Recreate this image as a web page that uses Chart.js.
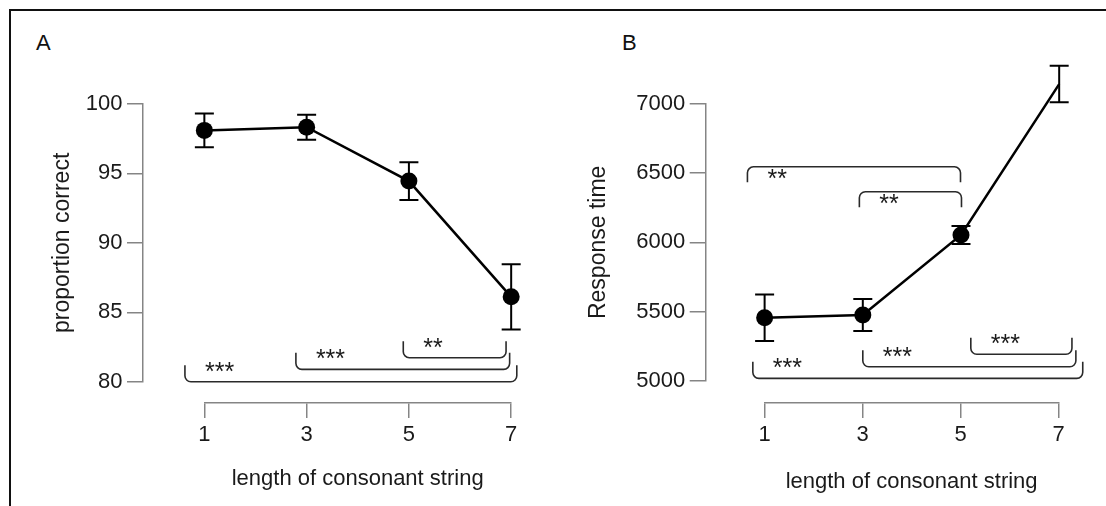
<!DOCTYPE html>
<html>
<head>
<meta charset="utf-8">
<script src="https://cdn.jsdelivr.net/npm/chart.js@4"></script>
<style>
  body { margin: 0; background: #fff; }
  #wrap { position: relative; width: 1106px; height: 506px; overflow: hidden; font-family: "Liberation Sans", Arial, sans-serif; }
  #frame { position: absolute; left: 9px; top: 9px; width: 1300px; height: 700px; border-left: 2px solid #111; border-top: 2px solid #111; }
  canvas { position: absolute; }
  .tag { position: absolute; font-size: 22px; color: #111; line-height: normal; }
</style>
</head>
<body>
<div id="wrap">
  <div id="frame"></div>
  <div class="tag" style="left:36px;top:30px">A</div>
  <div class="tag" style="left:622px;top:30px">B</div>
  <canvas id="accMain" width="560" height="400" style="left:0;top:0"></canvas>
  <canvas id="accAxis" width="560" height="126" style="left:0;top:380px"></canvas>
  <canvas id="rtMain" width="556" height="400" style="left:550px;top:0"></canvas>
  <canvas id="rtAxis" width="556" height="126" style="left:550px;top:380px"></canvas>
</div>
<script>
const lengths = [1, 3, 5, 7];
const xTicks = [1, 3, 5, 7];

const accuracy = [98.1, 98.33, 94.45, 86.11];
const accuracySE = [1.22, 0.9, 1.36, 2.35];
const accTicks = [80, 85, 90, 95, 100];

const rt = [5455, 5475, 6053, 7144];
const rtSE = [168, 116, 65, 132];
const rtTicks = [5000, 5500, 6000, 6500, 7000];

// significance brackets (x span and level in data units)
const accBrackets = [
  { x0: 0.62, x1: 7.11, y: 80.0, text: '***', open: 'up' },
  { x0: 2.79, x1: 6.97, y: 80.89, text: '***', open: 'up' },
  { x0: 4.89, x1: 6.9, y: 81.73, text: '**', open: 'up' }
];
const rtBrackets = [
  { x0: 0.65, x1: 4.99, y: 6546, text: '**', open: 'down' },
  { x0: 2.93, x1: 5.01, y: 6366, text: '**', open: 'down' },
  { x0: 0.76, x1: 7.48, y: 5017, text: '***', open: 'up' },
  { x0: 3.0, x1: 7.34, y: 5101, text: '***', open: 'up' },
  { x0: 5.2, x1: 7.26, y: 5191, text: '***', open: 'up' }
];

const FONT = '"Liberation Sans", Arial, sans-serif';
Chart.defaults.font.family = FONT;
Chart.defaults.color = '#1a1a1a';
Chart.defaults.animation = false;
const AXIS = '#858585';

// error bars under the points, brackets with stars on top
const marks = {
  id: 'marks',
  beforeDatasetsDraw(chart, args, o) {
    const { ctx } = chart;
    const x = chart.scales.x, y = chart.scales.y;
    const pts = chart.data.datasets[0].data;
    ctx.save();
    ctx.strokeStyle = '#000';
    ctx.lineWidth = 2;
    pts.forEach((p, i) => {
      const px = x.getPixelForValue(p.x);
      const top = y.getPixelForValue(p.y + o.se[i]);
      const bot = y.getPixelForValue(p.y - o.se[i]);
      ctx.beginPath();
      ctx.moveTo(px, top); ctx.lineTo(px, bot);
      ctx.moveTo(px - 9.5, top); ctx.lineTo(px + 9.5, top);
      ctx.moveTo(px - 9.5, bot); ctx.lineTo(px + 9.5, bot);
      ctx.stroke();
    });
    ctx.restore();
  },
  afterDatasetsDraw(chart, args, o) {
    const { ctx } = chart;
    const x = chart.scales.x, y = chart.scales.y;
    ctx.save();
    ctx.strokeStyle = '#2a2a2a';
    ctx.fillStyle = '#1a1a1a';
    ctx.lineWidth = 1.6;
    ctx.font = '25px ' + FONT;
    ctx.textAlign = 'left';
    ctx.textBaseline = 'alphabetic';
    o.brackets.forEach(b => {
      const x0 = x.getPixelForValue(b.x0), x1 = x.getPixelForValue(b.x1);
      const yb = y.getPixelForValue(b.y);
      const up = b.open === 'up';
      const arm = up ? -16.5 : 15.5;
      const r = 6;
      ctx.beginPath();
      ctx.moveTo(x0, yb + arm);
      ctx.arcTo(x0, yb, x0 + r, yb, r);
      ctx.arcTo(x1, yb, x1, yb + arm, r);
      ctx.lineTo(x1, yb + arm);
      ctx.stroke();
      const cy = up ? yb - 16 : yb + 6;
      ctx.fillText(b.text, x0 + 20, cy + 14);
    });
    ctx.restore();
  }
};

function mainChart(id, vals, se, ticks, yMin, yMax, title, brackets, lay) {
  return new Chart(document.getElementById(id), {
    type: 'line',
    data: {
      datasets: [{
        data: lengths.map((v, i) => ({ x: v, y: vals[i] })),
        borderColor: '#000',
        borderWidth: 2.5,
        pointRadius: 8.5,
        pointBackgroundColor: '#000',
        pointBorderWidth: 0,
        clip: false
      }]
    },
    options: {
      responsive: false,
      devicePixelRatio: 1,
      layout: { padding: { left: 0, top: 104, right: lay.right, bottom: lay.bottom } },
      plugins: {
        legend: { display: false },
        tooltip: { enabled: false },
        marks: { se: se, brackets: brackets }
      },
      scales: {
        x: { type: 'linear', min: -0.2, max: 7.2, display: false },
        y: {
          type: 'linear', min: yMin, max: yMax,
          afterBuildTicks: s => { s.ticks = ticks.map(v => ({ value: v })); },
          afterFit: s => { s.width = lay.axisWidth; },
          ticks: { font: { size: 22 }, color: '#1a1a1a', padding: 4.5, callback: v => String(v) },
          grid: { drawOnChartArea: false, drawTicks: true, tickLength: 16, color: AXIS, lineWidth: 1.5 },
          border: { display: true, color: AXIS, width: 1.5 },
          title: { display: true, text: title, font: { size: 23 }, color: '#1a1a1a', padding: { top: lay.titlePad, bottom: 0 } }
        }
      }
    },
    plugins: [marks]
  });
}

function axisChart(id, lay) {
  return new Chart(document.getElementById(id), {
    type: 'line',
    data: { datasets: [] },
    options: {
      responsive: false,
      devicePixelRatio: 1,
      layout: { padding: { left: lay.left, right: lay.right, top: 0, bottom: 0 } },
      plugins: { legend: { display: false }, tooltip: { enabled: false } },
      scales: {
        x: {
          type: 'linear', min: 1, max: 7,
          afterBuildTicks: s => { s.ticks = xTicks.map(v => ({ value: v })); },
          afterFit: s => { s.height = 103.5; },
          ticks: { font: { size: 22 }, color: '#1a1a1a', padding: 4 },
          grid: { drawOnChartArea: false, drawTicks: true, tickLength: 15.5, color: AXIS, lineWidth: 1.5 },
          border: { display: true, color: AXIS, width: 1.5 },
          title: { display: true, text: 'length of consonant string', font: { size: 22 }, color: '#1a1a1a', padding: { top: 0, bottom: lay.titlePad } }
        },
        y: { type: 'linear', min: 0, max: 1, display: false }
      }
    }
  });
}

mainChart('accMain', accuracy, accuracySE, accTicks, 80, 100, 'proportion correct', accBrackets,
  { axisWidth: 143, right: 38.6, bottom: 18.3, titlePad: 48.7 });
axisChart('accAxis', { left: 204.3, right: 49, titlePad: 14 });

mainChart('rtMain', rt, rtSE, rtTicks, 5000, 7000, 'Response time', rtBrackets,
  { axisWidth: 155.7, right: 37, bottom: 19.3, titlePad: 35.2 });
axisChart('rtAxis', { left: 214.6, right: 47.4, titlePad: 11 });
</script>
</body>
</html>
